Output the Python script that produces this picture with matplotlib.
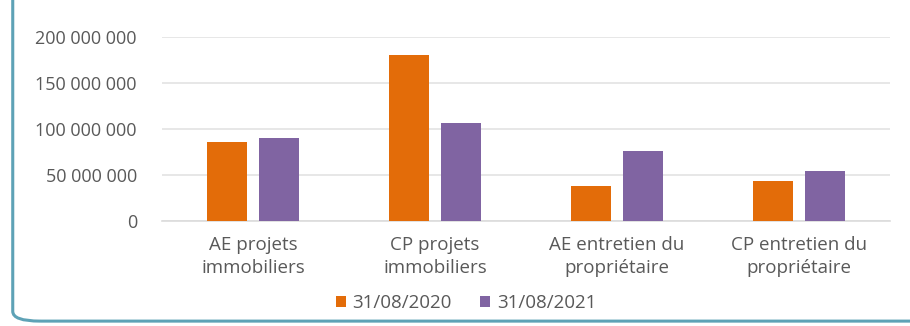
import numpy as np
import matplotlib.pyplot as plt
from matplotlib.patches import FancyBboxPatch
from matplotlib.ticker import FuncFormatter

categories = ['AE projets\nimmobiliers', 'CP projets\nimmobiliers',
              'AE entretien du\npropriétaire', 'CP entretien du\npropriétaire']
series_names = ['31/08/2020', '31/08/2021']
values_2020 = [86_000_000, 180_000_000, 38_000_000, 44_000_000]
values_2021 = [90_000_000, 107_000_000, 76_500_000, 54_500_000]
yticks = [0, 50_000_000, 100_000_000, 150_000_000, 200_000_000]

ORANGE = '#e36c09'
PURPLE = '#8064a2'
TEXT = '#595959'

plt.rcParams['font.family'] = ['Open Sans', 'DejaVu Sans']

fig = plt.figure(figsize=(9.1, 3.26), dpi=100)
ax = fig.add_axes([0.178, 0.322, 0.80, 0.5645])

x = np.arange(len(categories))
w = 0.22
off = 0.143
ax.bar(x - off, values_2020, w, color=ORANGE, label=series_names[0], zorder=3)
ax.bar(x + off, values_2021, w, color=PURPLE, label=series_names[1], zorder=3)

ax.set_xlim(-0.5, len(categories) - 0.5)
ax.set_ylim(0, 200_000_000)
ax.set_yticks(yticks)
ax.yaxis.set_major_formatter(FuncFormatter(lambda v, p: f'{int(v):,}'.replace(',', ' ')))
ax.set_xticks(x)
ax.set_xticklabels(categories)
ax.grid(axis='y', color='#e3e3e3', lw=1.2, zorder=0)
for s in ['top', 'right', 'left']:
    ax.spines[s].set_visible(False)
ax.spines['bottom'].set_color('#dcdcdc')
ax.spines['bottom'].set_linewidth(1.2)
ax.tick_params(axis='both', length=0, colors=TEXT)
ax.tick_params(axis='y', pad=18, labelsize=13)
ax.tick_params(axis='x', pad=11, labelsize=13.5)
for t in ax.get_xticklabels():
    t.set_linespacing(1.3)

fig.legend(loc='center', bbox_to_anchor=(466 / 910, 1 - 303 / 326), ncol=2,
           frameon=False, fontsize=13.5, labelcolor=TEXT, handlelength=0.55,
           handleheight=0.55, handletextpad=0.35, columnspacing=1.5)

# rounded frame around the panel
frame = FancyBboxPatch((0.014, 0.015), 1.2, 1.2, transform=fig.transFigure,
                       boxstyle='round,pad=0,rounding_size=0.03',
                       fill=False, ec='#5ea2b6', lw=2.2, clip_on=False)
fig.patches.append(frame)

fig.savefig('out.png', dpi=100)
